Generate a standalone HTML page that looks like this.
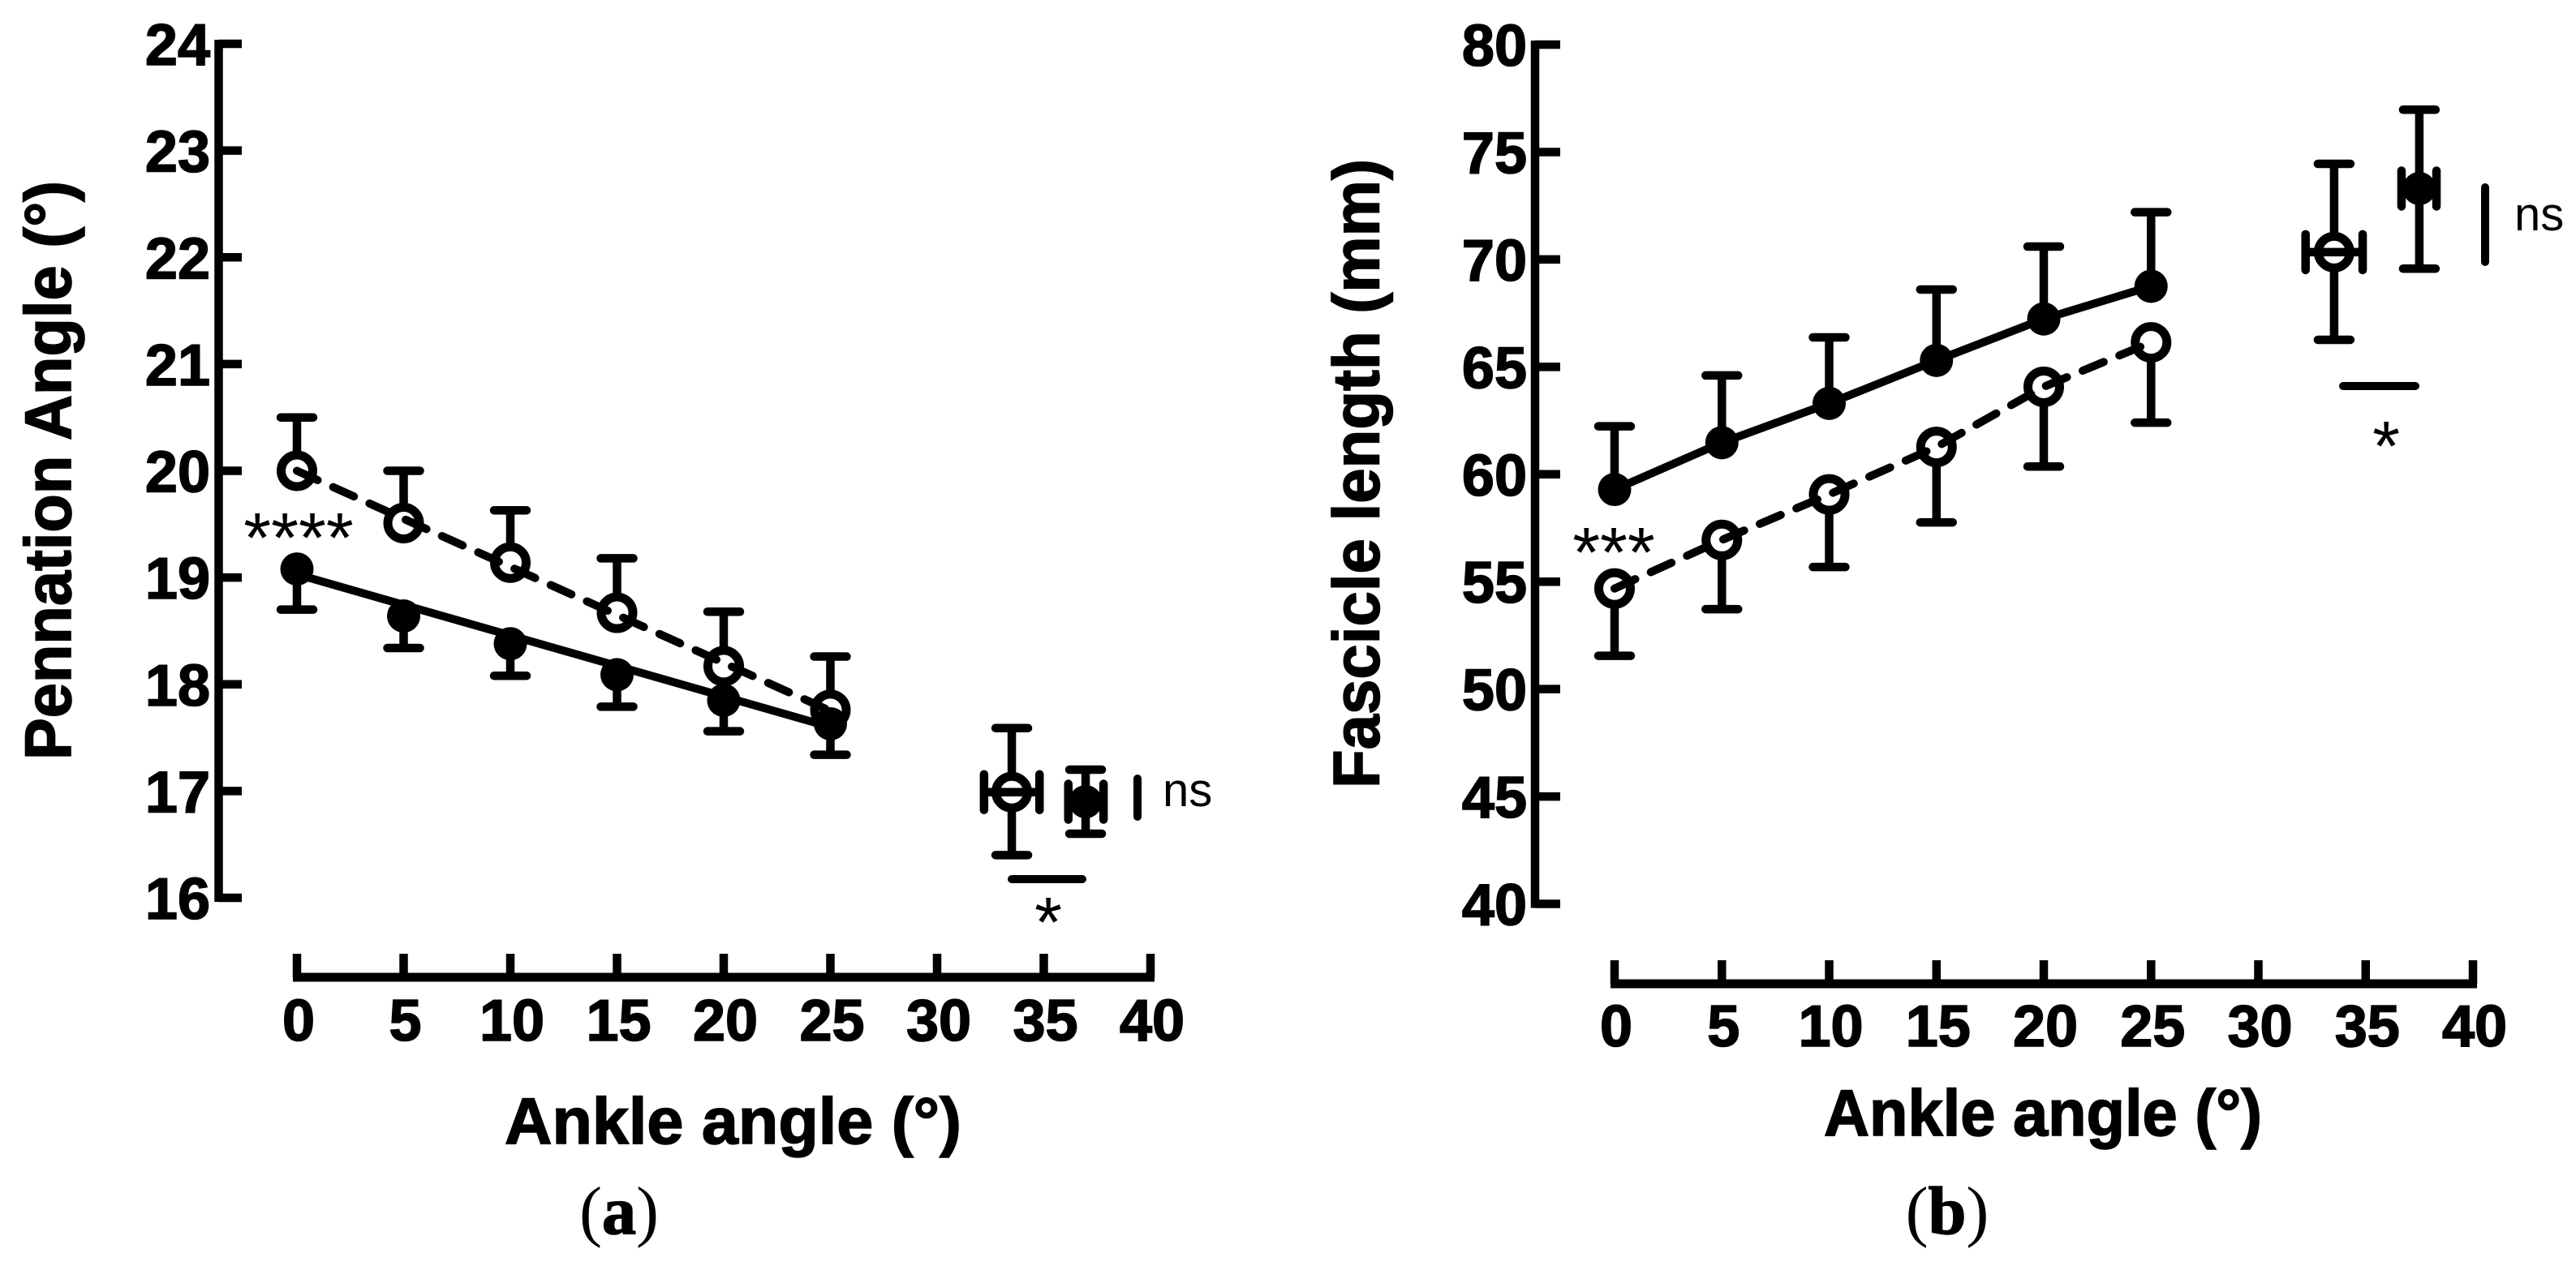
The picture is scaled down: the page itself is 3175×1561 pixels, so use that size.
<!DOCTYPE html>
<html lang="en">
<head>
<meta charset="utf-8">
<title>Pennation angle and fascicle length versus ankle angle</title>
<style>
html,body{margin:0;padding:0;background:#fff;}
svg{display:block;}
.sans{font-family:"Liberation Sans",Arial,sans-serif;fill:#000;}
.serif{font-family:"Liberation Serif","Times New Roman",serif;fill:#000;}
.bold{font-weight:bold;stroke:#000;stroke-width:1.6px;}
</style>
</head>
<body>
<svg id="figure" xmlns="http://www.w3.org/2000/svg" width="3175" height="1561" viewBox="0 0 3175 1561">
  <rect x="0" y="0" width="3175" height="1561" fill="#fff"/>

  <g id="panel-a">
    <text class="sans bold" font-size="81" transform="translate(87 937) rotate(-90)" textLength="714" lengthAdjust="spacingAndGlyphs">Pennation Angle (°)</text>
    <text class="sans bold" font-size="81" x="622" y="1410" textLength="563" lengthAdjust="spacingAndGlyphs">Ankle angle (°)</text>
    <text class="sans" font-size="87" x="368" y="693" text-anchor="middle">****</text>
    <line x1="1402" y1="960" x2="1402" y2="1007" stroke="#000" stroke-width="10" stroke-linecap="round"/>
    <text class="sans" font-size="58" x="1433" y="994">ns</text>
    <line x1="1247" y1="1084" x2="1334" y2="1084" stroke="#000" stroke-width="10" stroke-linecap="round"/>
    <text class="sans" font-size="87" x="1292" y="1167" text-anchor="middle">*</text>
    <text class="serif" font-size="84" x="763" y="1521" text-anchor="middle">(<tspan class="bold">a</tspan>)</text>
  </g>

  <g id="panel-b">
    <text class="sans bold" font-size="81" transform="translate(1699.5 972) rotate(-90)" textLength="776" lengthAdjust="spacingAndGlyphs">Fascicle length (mm)</text>
    <text class="sans bold" font-size="81" x="2248" y="1400" textLength="540" lengthAdjust="spacingAndGlyphs">Ankle angle (°)</text>
    <text class="sans" font-size="87" x="1989" y="711" text-anchor="middle">***</text>
    <line x1="3063" y1="231" x2="3063" y2="323" stroke="#000" stroke-width="10" stroke-linecap="round"/>
    <text class="sans" font-size="58" x="3099" y="284">ns</text>
    <line x1="2888" y1="476" x2="2977" y2="476" stroke="#000" stroke-width="10" stroke-linecap="round"/>
    <text class="sans" font-size="87" x="2941" y="580" text-anchor="middle">*</text>
    <text class="serif" font-size="84" x="2400" y="1521" text-anchor="middle">(<tspan class="bold">b</tspan>)</text>
  </g>
</svg>

<script>
// Shared x axis
const xTickLabels = [0, 5, 10, 15, 20, 25, 30, 35, 40];
const angles = [0, 5, 10, 15, 20, 25];

// Panel (a): pennation angle
const aYTickLabels = [16, 17, 18, 19, 20, 21, 22, 23, 24];
const aOpenValues = [20.0, 19.51, 19.14, 18.67, 18.17, 17.76];
const aOpenUpper = [20.5, 20.0, 19.63, 19.18, 18.68, 18.26];
const aClosedValues = [19.08, 18.64, 18.38, 18.09, 17.85, 17.63];
const aClosedLower = [18.7, 18.34, 18.08, 17.79, 17.56, 17.34];
const aFitAngles = [0, 25];
const aOpenFit = [20.0, 17.75];
const aClosedFit = [19.03, 17.6];
const aSummaryX = [33.5, 36.96];
const aSummaryXLow = [32.2, 36.15];
const aSummaryXHigh = [34.8, 37.8];
const aSummaryY = [16.99, 16.9];
const aSummaryYLow = [16.4, 16.6];
const aSummaryYHigh = [17.59, 17.2];

// Panel (b): fascicle length
const bYTickLabels = [40, 45, 50, 55, 60, 65, 70, 75, 80];
const bOpenValues = [54.68, 56.94, 59.06, 61.27, 64.07, 66.14];
const bOpenLower = [51.55, 53.72, 55.68, 57.76, 60.36, 62.4];
const bClosedValues = [59.29, 61.47, 63.3, 65.3, 67.23, 68.75];
const bClosedUpper = [62.23, 64.6, 66.37, 68.6, 70.6, 72.2];
const bFitAngles = [0, 5, 10, 15, 20, 25];
const bSummaryX = [33.53, 37.5];
const bSummaryXLow = [32.2, 36.67];
const bSummaryXHigh = [34.86, 38.3];
const bSummaryY = [70.34, 73.3];
const bSummaryYLow = [66.26, 69.57];
const bSummaryYHigh = [74.45, 76.97];

const SVGNS = 'http://www.w3.org/2000/svg';

function xScaleA(v) { return 366 + (v / 40) * 1052; }
function yScaleA(v) { return 1107 - ((v - 16) / 8) * 1053; }
function xScaleB(v) { return 1990 + (v / 40) * 1058; }
function yScaleB(v) { return 1114.5 - ((v - 40) / 40) * 1059.5; }

function seg(parent, x1, y1, x2, y2, cap) {
  const el = document.createElementNS(SVGNS, 'line');
  el.setAttribute('x1', x1);
  el.setAttribute('y1', y1);
  el.setAttribute('x2', x2);
  el.setAttribute('y2', y2);
  el.setAttribute('stroke', '#000');
  el.setAttribute('stroke-width', 10.5);
  el.setAttribute('stroke-linecap', cap || 'round');
  parent.appendChild(el);
  return el;
}

function dot(parent, cx, cy, open) {
  const el = document.createElementNS(SVGNS, 'circle');
  el.setAttribute('cx', cx);
  el.setAttribute('cy', cy);
  el.setAttribute('r', open ? 19.5 : 20.5);
  el.setAttribute('fill', open ? '#fff' : '#000');
  el.setAttribute('stroke', open ? '#000' : 'none');
  el.setAttribute('stroke-width', open ? 11 : 0);
  parent.appendChild(el);
  return el;
}

function label(parent, x, y, str, anchor) {
  const el = document.createElementNS(SVGNS, 'text');
  el.setAttribute('x', x);
  el.setAttribute('y', y);
  el.setAttribute('class', 'sans bold');
  el.setAttribute('font-size', 72);
  el.setAttribute('text-anchor', anchor);
  el.textContent = str;
  parent.appendChild(el);
  return el;
}

function drawAxes(parent, xScale, yScale, xTicks, yTicks, opts) {
  const yAxis = seg(parent, opts.axisX, yScale(yTicks[yTicks.length - 1]) - 5, opts.axisX, yScale(yTicks[0]) + 5, 'butt');
  
  
  yTicks.forEach(function (t) {
    const tick = seg(parent, opts.axisX, yScale(t), opts.yTickEnd, yScale(t), 'butt');
    
    
    const txt = label(parent, opts.yLabelX, yScale(t) + 26, String(t), 'end');
    
    
  });
  const xAxis = seg(parent, xScale(xTicks[0]) - 5, opts.axisY, xScale(xTicks[xTicks.length - 1]) + 5, opts.axisY, 'butt');
  xAxis.setAttribute('stroke-width', 11);
  
  
  xTicks.forEach(function (t) {
    const tick = seg(parent, xScale(t), opts.axisY, xScale(t), opts.axisY - 29, 'butt');
    
    
    const txt = label(parent, xScale(t) + 2, opts.xLabelY, String(t), 'middle');
    
    
  });
}

function drawSeries(parent, xScale, yScale, xs, values, bounds, fitXs, fitValues, open) {
  xs.forEach(function (x, i) {
    const stem = seg(parent, xScale(x), yScale(values[i]), xScale(x), yScale(bounds[i]), 'butt');
    
    
    const cap = seg(parent, xScale(x) - 20, yScale(bounds[i]), xScale(x) + 20, yScale(bounds[i]));
    
    
  });
  xs.forEach(function (x, i) {
    const m = dot(parent, xScale(x), yScale(values[i]), open);
    
    
  });
  const path = document.createElementNS(SVGNS, 'polyline');
  path.setAttribute('points', fitXs.map(function (x, i) {
    return xScale(x) + ',' + yScale(fitValues[i]);
  }).join(' '));
  path.setAttribute('fill', 'none');
  path.setAttribute('stroke', '#000');
  path.setAttribute('stroke-width', 10);
  path.setAttribute('stroke-linecap', 'round');
  if (open) path.setAttribute('stroke-dasharray', '28 21');
  
  
  parent.appendChild(path);
}

function drawSummary(parent, xScale, yScale, index, xs, xLow, xHigh, ys, yLow, yHigh) {
  const open = index === 0;
  const cx = xScale(xs[index]);
  const cy = yScale(ys[index]);
  const vStem = seg(parent, cx, yScale(yLow[index]), cx, yScale(yHigh[index]), 'butt');
  
  
  [yLow[index], yHigh[index]].forEach(function (v) {
    const cap = seg(parent, cx - 20, yScale(v), cx + 20, yScale(v));
    
    
  });
  const m = dot(parent, cx, cy, open);
  
  
  const hStem = seg(parent, xScale(xLow[index]), cy, xScale(xHigh[index]), cy, 'butt');
  
  
  [xLow[index], xHigh[index]].forEach(function (v) {
    const cap = seg(parent, xScale(v), cy - 22, xScale(v), cy + 22);
    
    
  });
}

const panelA = document.getElementById('panel-a');
const panelB = document.getElementById('panel-b');

drawAxes(panelA, xScaleA, yScaleA, xTickLabels, aYTickLabels, { axisX: 269.5, yTickEnd: 298, yLabelX: 259, axisY: 1205, xLabelY: 1283 });
drawSeries(panelA, xScaleA, yScaleA, angles, aOpenValues, aOpenUpper, aFitAngles, aOpenFit, true);
drawSeries(panelA, xScaleA, yScaleA, angles, aClosedValues, aClosedLower, aFitAngles, aClosedFit, false);
drawSummary(panelA, xScaleA, yScaleA, 0, aSummaryX, aSummaryXLow, aSummaryXHigh, aSummaryY, aSummaryYLow, aSummaryYHigh);
drawSummary(panelA, xScaleA, yScaleA, 1, aSummaryX, aSummaryXLow, aSummaryXHigh, aSummaryY, aSummaryYLow, aSummaryYHigh);

drawAxes(panelB, xScaleB, yScaleB, xTickLabels, bYTickLabels, { axisX: 1892, yTickEnd: 1923, yLabelX: 1882, axisY: 1213, xLabelY: 1290 });
drawSeries(panelB, xScaleB, yScaleB, angles, bOpenValues, bOpenLower, bFitAngles, bOpenValues, true);
drawSeries(panelB, xScaleB, yScaleB, angles, bClosedValues, bClosedUpper, bFitAngles, bClosedValues, false);
drawSummary(panelB, xScaleB, yScaleB, 0, bSummaryX, bSummaryXLow, bSummaryXHigh, bSummaryY, bSummaryYLow, bSummaryYHigh);
drawSummary(panelB, xScaleB, yScaleB, 1, bSummaryX, bSummaryXLow, bSummaryXHigh, bSummaryY, bSummaryYLow, bSummaryYHigh);
</script>
</body>
</html>
